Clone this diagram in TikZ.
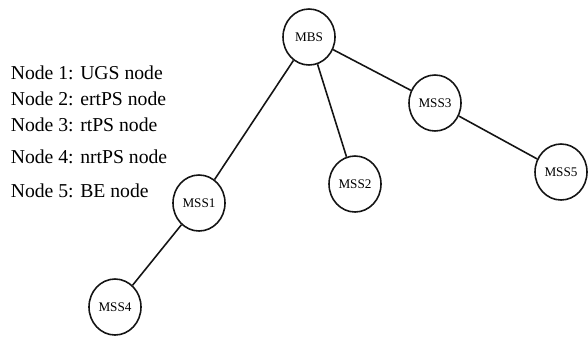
\documentclass[tikz,border=0pt]{standalone}
\usepackage{fontspec}
\setmainfont{Liberation Serif}
\usepackage{tikz}
\usetikzlibrary{shapes.geometric, positioning}
\definecolor{mydark}{RGB}{20,20,20}
\tikzset{
  station/.style={ellipse, draw=mydark, fill=white,
    minimum width=1.04cm, minimum height=1.12cm, inner sep=0pt,
    font=\fontsize{7.5}{9}\selectfont, line width=0.9pt},
  legend/.style={anchor=west, inner sep=0pt,
    font=\fontsize{11.2}{13}\selectfont},
  link/.style={line width=0.9pt, color=mydark}
}

\begin{document}
\begin{tikzpicture}
  \useasboundingbox (0,0) rectangle (11.76,6.8);

  % Legend on the left
  \node[legend] (leg1) at (0.21, 5.34) {Node 1: UGS node};
  \node[legend] (leg2) at (0.21, 4.82) {Node 2: ertPS node};
  \node[legend] (leg3) at (0.21, 4.30) {Node 3: rtPS node};
  \node[legend] (leg4) at (0.21, 3.66) {Node 4: nrtPS node};
  \node[legend] (leg5) at (0.21, 2.98) {Node 5: BE node};

  % Base station and subscriber stations
  \node[station] (mbs) at (6.18, 6.06) {MBS};
  \node[station] (mss1) at (3.98, 2.74) {MSS1};
  \node[station] (mss2) at (7.10, 3.12) {MSS2};
  \node[station] (mss3) at (8.70, 4.74) {MSS3};
  \node[station] (mss4) at (2.30, 0.66) {MSS4};
  \node[station] (mss5) at (11.22, 3.36) {MSS5};

  % Connections
  \draw[link] (mbs) -- (mss1);
  \draw[link] (mbs) -- (mss2);
  \draw[link] (mbs) -- (mss3);
  \draw[link] (mss1) -- (mss4);
  \draw[link] (mss3) -- (mss5);
\end{tikzpicture}
\end{document}
